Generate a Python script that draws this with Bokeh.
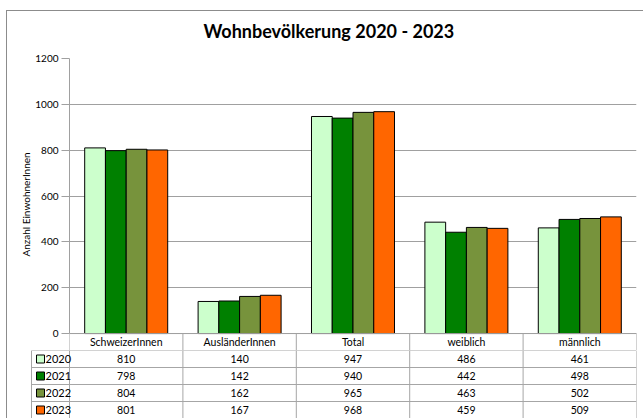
from bokeh.plotting import figure
from bokeh.models import FactorRange, Range1d, FixedTicker, ColumnDataSource, Title, InlineStyleSheet
from bokeh.transform import dodge
from bokeh.layouts import column
from bokeh.embed import file_html
from bokeh.resources import INLINE
from bokeh.core.properties import value

# ---- data ----
categories = ["SchweizerInnen", "AusländerInnen", "Total", "weiblich", "männlich"]
years = ["2020", "2021", "2022", "2023"]
v2020 = [810, 140, 947, 486, 461]
v2021 = [798, 142, 940, 442, 498]
v2022 = [804, 162, 965, 463, 502]
v2023 = [801, 167, 968, 459, 509]
colors = ["#CCFFCC", "#008000", "#77933C", "#FF6600"]
y_ticks = [0, 200, 400, 600, 800, 1000, 1200]
y_max = 1200
title_text = "Wohnbevölkerung 2020 - 2023"
y_label = "Anzahl EinwohnerInnen"

series = [v2020, v2021, v2022, v2023]

# ---- layout constants ----
FONT = "Lato"
W = 643
FRAME_LEFT = 69
FRAME_RIGHT_GAP = 7
FRAME_TOP = 57
PLOT_PX = 276          # height of the 0..1200 value area in px
ROW_PX = 17            # height of a table row (header and data)
N = len(categories)
CAT_W = (W - FRAME_LEFT - FRAME_RIGHT_GAP) / N
BAR_W = 0.183
GRID_COL = "#A0A0A0"
TABLE_COL = "#A6A6A6"
BORDER_COL = "#8C8C8C"

chart_border_css = InlineStyleSheet(css=(
    ":host{position:relative;}"
    ":host::after{content:'';position:absolute;left:6px;top:10px;right:0;bottom:0;"
    "border-top:1px solid %s;border-left:1px solid %s;pointer-events:none;}" % (BORDER_COL, BORDER_COL)))
table_border_css = InlineStyleSheet(css=(
    ":host{position:relative;}"
    ":host::after{content:'';position:absolute;left:6px;top:0;right:0;bottom:0;"
    "border-left:1px solid %s;pointer-events:none;}" % BORDER_COL))

src = ColumnDataSource(dict(cat=categories, **{y: s for y, s in zip(years, series)}))

# chart frame extends one table row below 0, which holds the category header
y_start = -ROW_PX * y_max / PLOT_PX
p = figure(x_range=FactorRange(*categories, range_padding=0), y_range=Range1d(y_start, y_max),
           width=W, height=FRAME_TOP + PLOT_PX + ROW_PX, output_backend="svg", toolbar_location=None,
           min_border_left=FRAME_LEFT, min_border_right=FRAME_RIGHT_GAP, min_border_top=FRAME_TOP,
           min_border_bottom=0)
p.frame_align = False
p.stylesheets = [chart_border_css]
p.title = Title(text=title_text, align="left", offset=134, text_font=FONT, standoff=34,
                text_font_size="18px", text_font_style="bold", text_color="#000000")

n_s = len(series)
for j, (yr, col) in enumerate(zip(years, colors)):
    off = (j - (n_s - 1) / 2) * BAR_W
    p.vbar(x=dodge("cat", off, range=p.x_range), top=yr, width=BAR_W, source=src,
           fill_color=col, line_color="#000000", line_width=1)

p.xaxis.visible = False
p.xgrid.visible = False
p.ygrid.grid_line_color = GRID_COL
p.ygrid.ticker = FixedTicker(ticks=y_ticks)
p.yaxis.ticker = FixedTicker(ticks=y_ticks)
p.yaxis.bounds = (0, y_max)
p.yaxis.axis_line_color = GRID_COL
p.yaxis.major_tick_line_color = GRID_COL
p.yaxis.major_tick_out = 8
p.yaxis.major_tick_in = 0
p.yaxis.minor_tick_line_color = None
p.yaxis.major_label_standoff = 3
p.yaxis.major_label_text_font = FONT
p.yaxis.major_label_text_font_size = "10px"
p.yaxis.major_label_text_color = "#000000"
p.yaxis.axis_label = y_label
p.yaxis.axis_label_text_font = FONT
p.yaxis.axis_label_text_font_size = "10px"
p.yaxis.axis_label_text_font_style = "normal"
p.yaxis.axis_label_text_color = "#000000"
p.yaxis.axis_label_standoff = 0
p.outline_line_color = None

# header row of the data table (inside the chart frame, below 0)
bounds = list(range(0, N + 1))
p.segment(x0=bounds, y0=[y_start] * len(bounds), x1=bounds, y1=[0] * len(bounds),
          line_color=TABLE_COL, line_width=1)
p.segment(x0=[0], y0=[0], x1=[N], y1=[0], line_color=GRID_COL, line_width=1)
p.text(x=categories, y=[y_start / 2] * N, text=categories, text_align="center", text_baseline="middle",
       text_font=value(FONT), text_font_size="10.5px", text_color="#000000")

# ---- data rows of the table ----
LEG_W = 38
rows = len(years)
t = figure(x_range=Range1d(-(LEG_W + 1) / CAT_W, N), y_range=Range1d(rows, 0),
           width=W, height=ROW_PX * rows, output_backend="svg", toolbar_location=None,
           min_border_left=FRAME_LEFT - LEG_W - 1, min_border_right=FRAME_RIGHT_GAP,
           min_border_top=0, min_border_bottom=0)
t.frame_align = False
t.stylesheets = [table_border_css]
t.axis.visible = False
t.grid.visible = False
t.outline_line_color = None

xl = -LEG_W / CAT_W
hy = list(range(0, rows))
t.segment(x0=[xl] * len(hy), y0=hy, x1=[N] * len(hy), y1=hy, line_color=TABLE_COL, line_width=1)
vx = [xl] + list(range(0, N + 1))
t.segment(x0=vx, y0=[0] * len(vx), x1=vx, y1=[rows] * len(vx), line_color=TABLE_COL, line_width=1)

cx = [i + 0.5 for i in range(N)]
for j, s in enumerate(series):
    t.text(x=cx, y=[j + 0.5] * N, text=[str(v) for v in s], text_align="center",
           text_baseline="middle", text_font=value(FONT), text_font_size="10.5px", text_color="#000000")
sq_x = xl + 9 / CAT_W
tx = xl + 14 / CAT_W
t.scatter(x=[sq_x] * rows, y=[j + 0.5 for j in range(rows)], marker="square", size=8,
          fill_color=colors, line_color="#000000", line_width=1)
t.text(x=[tx] * rows, y=[j + 0.5 for j in range(rows)], text=years, text_align="left",
       text_baseline="middle", text_font=value(FONT), text_font_size="11px", text_color="#000000")

layout = column(p, t, spacing=0)
open("out.html", "w").write(file_html(layout, INLINE))
